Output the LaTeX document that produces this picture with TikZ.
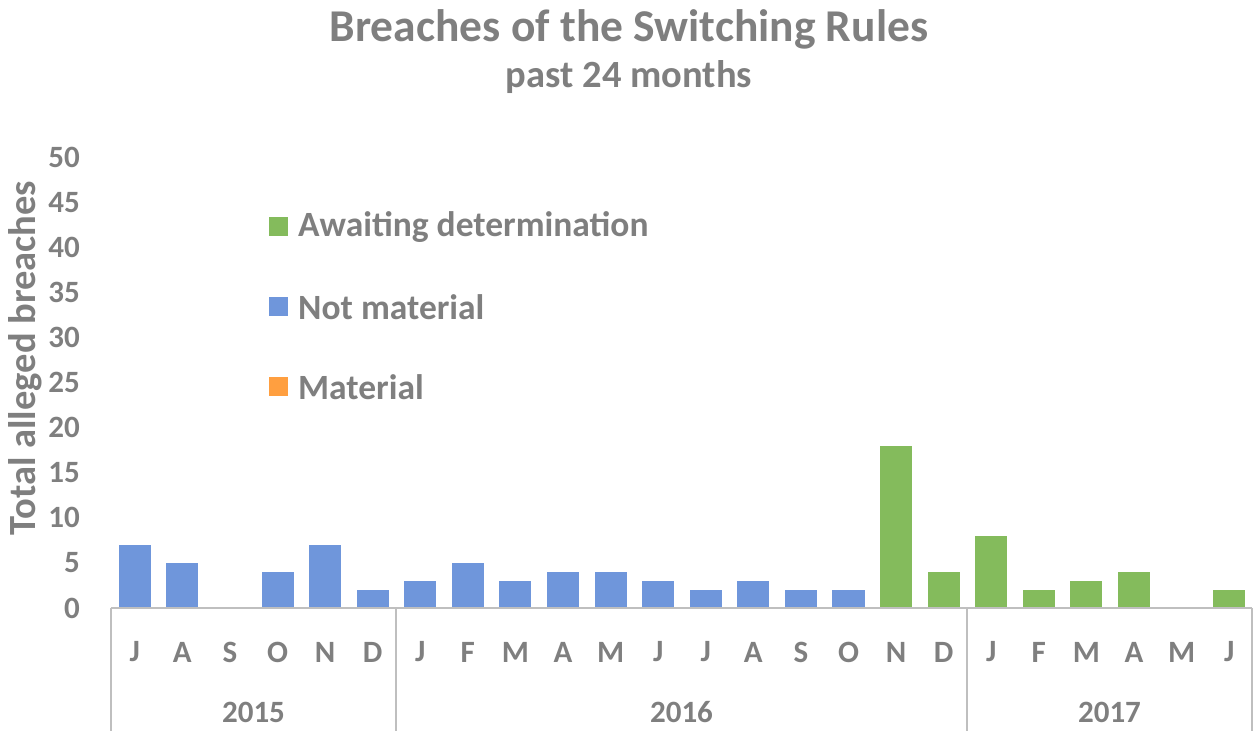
\documentclass[tikz,border=0pt]{standalone}
\usepackage{fontspec}
\setmainfont{Carlito}
\definecolor{txtgray}{HTML}{7F7F7F}
\definecolor{axgray}{HTML}{BFBFBF}
\definecolor{notmat}{HTML}{6F96DB}
\definecolor{await}{HTML}{84BB5C}
\definecolor{mat}{HTML}{FF9F40}
\tikzset{
  lbl/.style={text=txtgray, inner sep=0pt, font=\bfseries\fontsize{31}{33}\selectfont},
  keybox/.style={minimum size=19pt, inner sep=0pt},
  axis/.style={draw=axgray, line width=1.5pt},
}
\begin{document}
\begin{tikzpicture}[x=1pt,y=-1pt]
\useasboundingbox (0,0) rectangle (1253,731);
\def\w{47.58}  % one month
\def\u{9.02}   % one breach
\def\xo{111}   % left end of the month axis
\def\yo{608}   % zero line

% title
\node[lbl, font=\bfseries\fontsize{45.5}{48}\selectfont] (title) at (629,29) {Breaches of the Switching Rules};
\node[lbl, font=\bfseries\fontsize{38.5}{40}\selectfont] (subtitle) at (629,77) {past 24 months};

% y axis
\foreach \v in {0,5,...,50}
  \node[lbl, anchor=east] (y\v) at (80,{\yo-\v*\u}) {\v};
\node[lbl, rotate=90, font=\bfseries\fontsize{38.5}{40}\selectfont] (ytitle) at (25,358) {Total alleged breaches};

% bars
\foreach \v [count=\i from 0] in {7,5,0,4,7,2,3,5,3,4,4,3,2,3,2,2}
  \fill[notmat] ({\xo+(\i+0.5)*\w-16},\yo) rectangle ++(32,{-\v*\u});
\foreach \v [count=\i from 16] in {18,4,8,2,3,4,0,2}
  \fill[await] ({\xo+(\i+0.5)*\w-16},\yo) rectangle ++(32,{-\v*\u});

% month axis with year boxes
\draw[axis] (\xo,\yo) -- (1252,\yo);
\foreach \x in {111,396,967,1252}
  \draw[axis] (\x,\yo) -- (\x,731);
\foreach \m [count=\i from 0] in {J,A,S,O,N,D,J,F,M,A,M,J,J,A,S,O,N,D,J,F,M,A,M,J}
  \node[lbl] (m\i) at ({\xo+(\i+0.5)*\w},652) {\m};
\node[lbl] (yr15) at (253.5,712) {2015};
\node[lbl] (yr16) at (681.5,712) {2016};
\node[lbl] (yr17) at (1109.5,712) {2017};

% legend
\node[keybox, fill=await] (kAwait) at (278,226) {};
\node[keybox, fill=notmat] (kNot) at (278,306) {};
\node[keybox, fill=mat] (kMat) at (278,386) {};
\node[lbl, anchor=west, font=\bfseries\fontsize{35.5}{37}\selectfont] (tAwait) at (298,227) {Awaiting determination};
\node[lbl, anchor=west, font=\bfseries\fontsize{35.5}{37}\selectfont] (tNot) at (298,307) {Not material};
\node[lbl, anchor=west, font=\bfseries\fontsize{35.5}{37}\selectfont] (tMat) at (298,387) {Material};
\end{tikzpicture}
\end{document}
